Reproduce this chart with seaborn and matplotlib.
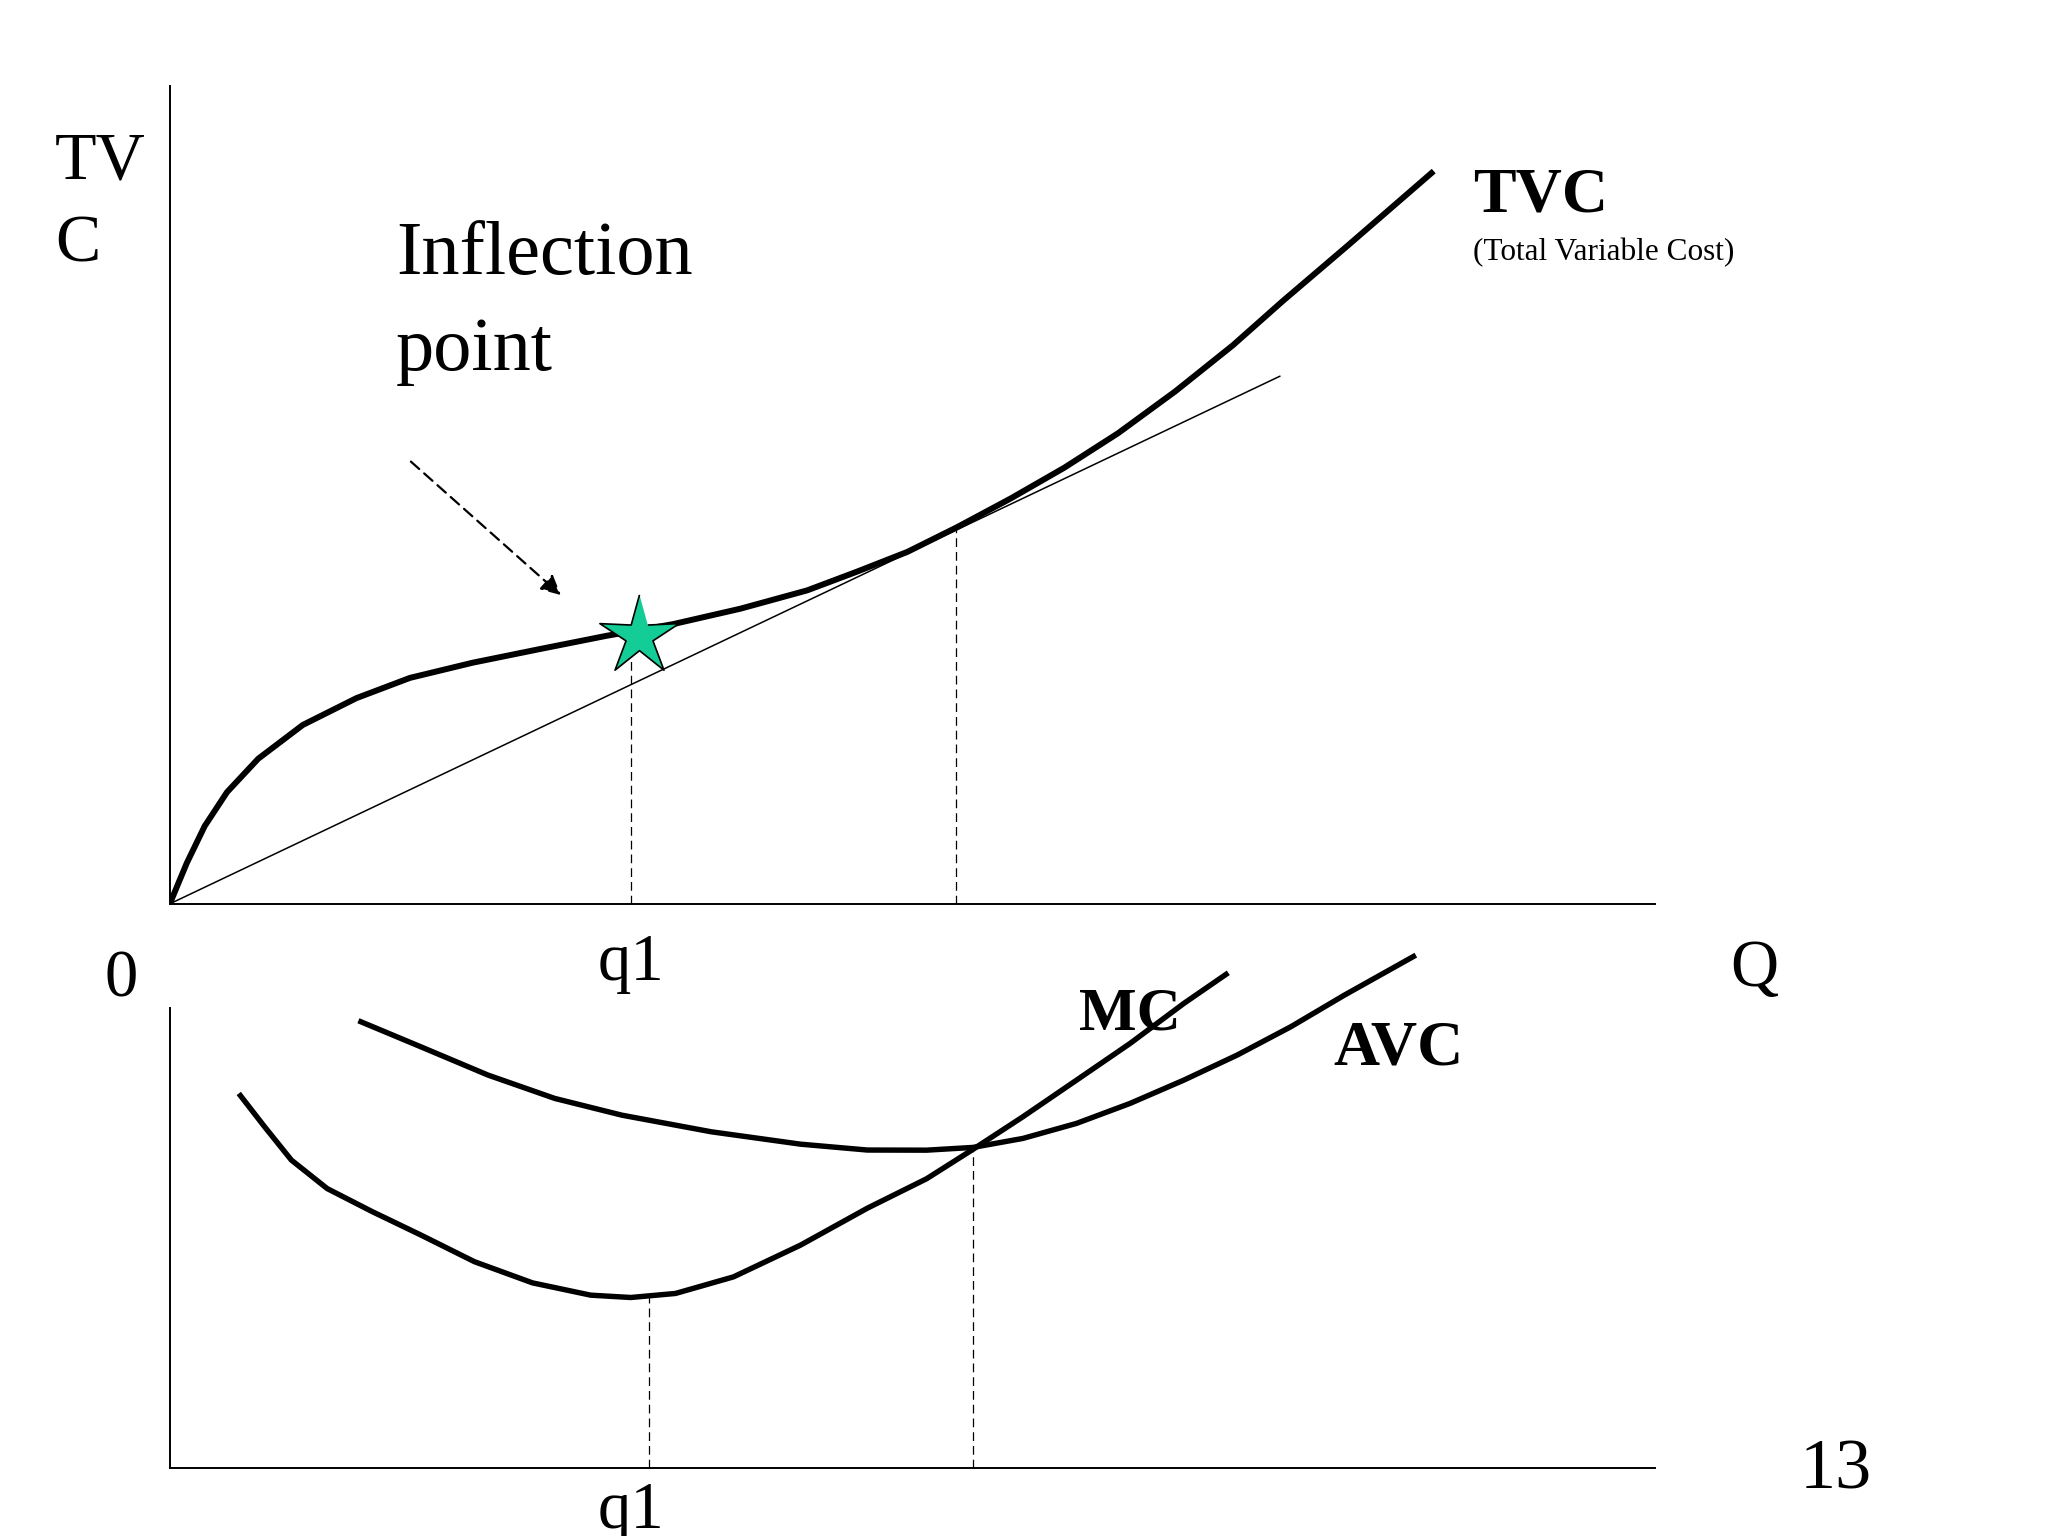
import numpy as np
import matplotlib
matplotlib.use("Agg")
import matplotlib.pyplot as plt
import seaborn as sns

# Top panel: total variable cost curve (Q, TVC)
tvc_q = [0.0, 0.13, 0.267, 0.438, 0.677, 1.019, 1.429, 1.839, 2.318, 2.83,
         3.343, 3.856, 4.37, 4.88, 5.258, 5.648, 6.03, 6.439, 6.85, 7.26,
         7.70, 8.14, 8.52, 9.018, 9.677]
tvc_v = [0.0, 0.312, 0.595, 0.855, 1.111, 1.37, 1.575, 1.73, 1.846, 1.95,
         2.052, 2.142, 2.26, 2.40, 2.542, 2.695, 2.885, 3.104, 3.34, 3.603,
         3.925, 4.277, 4.614, 5.039, 5.61]

# ray from origin, tangent to TVC
ray_q = [0.0, 8.50]
ray_v = [0.0, 4.04]

# inflection point and the two quantities marked on the top panel
infl_q, infl_v = 3.59, 2.05
q1_top, q1_top_v = 3.53, 1.92
q2_top, q2_top_v = 6.02, 2.87

# Bottom panel: MC and AVC
mc_q = [0.528, 0.726, 0.931, 1.205, 1.547, 1.923, 2.333, 2.777, 3.222, 3.529,
        3.872, 4.316, 4.829, 5.341, 5.794, 6.149, 6.532, 6.942, 7.352, 7.763, 8.104]
mc_v = [2.868, 2.613, 2.358, 2.14, 1.965, 1.784, 1.58, 1.418, 1.324, 1.306,
        1.337, 1.464, 1.707, 1.99, 2.215, 2.44, 2.69, 2.97, 3.251, 3.557, 3.792]
avc_q = [1.444, 1.923, 2.436, 2.948, 3.461, 4.144, 4.829, 5.341, 5.794, 6.149,
         6.532, 6.942, 7.352, 7.763, 8.172, 8.583, 8.993, 9.54]
avc_v = [3.425, 3.225, 3.009, 2.83, 2.702, 2.575, 2.48, 2.435, 2.434, 2.455,
         2.524, 2.639, 2.792, 2.97, 3.162, 3.379, 3.621, 3.927]
q1_bot, q1_bot_v = 3.67, 1.31
q2_bot, q2_bot_v = 6.15, 2.45

sns.set_theme(style="white")
plt.rcParams['font.family'] = ['Liberation Serif', 'DejaVu Serif']

fig = plt.figure(figsize=(20.48, 15.36), dpi=100)
W, H = 1568.0, 1176.0
ax1 = fig.add_axes([130 / W, 1 - 692 / H, 1137 / W, 626 / H])
ax2 = fig.add_axes([130 / W, 1 - 1124 / H, 1137 / W, 352 / H])

for ax, top in [(ax1, 6.26), (ax2, 3.52)]:
    ax.set_xlim(0, 11.37)
    ax.set_ylim(0, top)
    ax.set_facecolor('none')
    ax.set_xticks([])
    ax.set_yticks([])
    for s in ['top', 'right']:
        ax.spines[s].set_visible(False)
    for s in ['left', 'bottom']:
        ax.spines[s].set_color('black')
        ax.spines[s].set_linewidth(1.4)

# slim five-pointed star marker
ang = np.pi / 2 + np.arange(10) * np.pi / 5
rad = np.where(np.arange(10) % 2 == 0, 1.0, 0.34)
star = list(zip(rad * np.cos(ang), rad * np.sin(ang)))

# ---- top panel
sns.lineplot(x=ray_q, y=ray_v, ax=ax1, color='black', linewidth=1.1, sort=False)
sns.lineplot(x=tvc_q, y=tvc_v, ax=ax1, color='black', linewidth=4.3, sort=False,
             solid_joinstyle='round', solid_capstyle='butt')
ax1.plot([q1_top, q1_top], [0, q1_top_v], color='black', lw=0.9, ls=(0, (7, 4)))
ax1.plot([q2_top, q2_top], [0, q2_top_v], color='black', lw=0.9, ls=(0, (7, 4)))
ax1.plot([infl_q], [infl_v], marker=star, markersize=60, color='#14CC96',
         markeredgecolor='black', markeredgewidth=1.2, zorder=5)
ax1.annotate('', xy=(3.01, 2.35), xytext=(1.83, 3.40),
             arrowprops=dict(arrowstyle='-|>', color='black', lw=1.6,
                             linestyle=(0, (5, 3)), mutation_scale=30))

txt = dict(color='black', clip_on=False)
ax1.text(-0.88, 5.55, 'TV', fontsize=49, va='baseline', **txt)
ax1.text(-0.88, 4.92, 'C', fontsize=49, va='baseline', **txt)
ax1.text(1.73, 4.82, 'Inflection', fontsize=55, va='baseline', **txt)
ax1.text(1.73, 4.09, 'point', fontsize=55, va='baseline', **txt)
ax1.text(9.98, 5.30, 'TVC', fontsize=46, fontweight='bold', va='baseline', **txt)
ax1.text(9.98, 4.93, '(Total Variable Cost)', fontsize=22.5, va='baseline', **txt)
ax1.text(-0.37, -0.71, '0', fontsize=48, ha='center', va='baseline', **txt)
ax1.text(q1_top, -0.58, 'q1', fontsize=48, ha='center', va='baseline', **txt)
ax1.text(12.13, -0.63, 'Q', fontsize=48, ha='center', va='baseline', **txt)

# ---- bottom panel
sns.lineplot(x=mc_q, y=mc_v, ax=ax2, color='black', linewidth=3.9, sort=False,
             solid_joinstyle='round', solid_capstyle='butt', clip_on=False)
sns.lineplot(x=avc_q, y=avc_v, ax=ax2, color='black', linewidth=3.9, sort=False,
             solid_joinstyle='round', solid_capstyle='butt', clip_on=False)
ax2.plot([q1_bot, q1_bot], [0, q1_bot_v], color='black', lw=0.9, ls=(0, (7, 4)))
ax2.plot([q2_bot, q2_bot], [0, q2_bot_v], color='black', lw=0.9, ls=(0, (7, 4)))

ax2.text(6.96, 3.36, 'MC', fontsize=44, fontweight='bold', va='baseline', **txt)
ax2.text(8.91, 3.09, 'AVC', fontsize=46, fontweight='bold', va='baseline', **txt)
ax2.text(12.48, -0.16, '13', fontsize=52, va='baseline', **txt)
ax2.text(3.53, -0.46, 'q1', fontsize=48, ha='center', va='baseline', **txt)

fig.savefig('out.png', dpi=100, facecolor='white')
